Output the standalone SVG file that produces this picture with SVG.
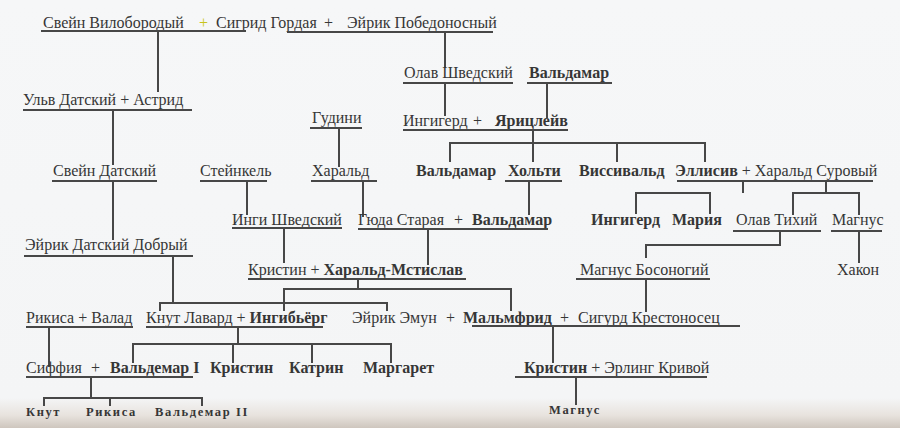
<svg xmlns="http://www.w3.org/2000/svg" width="900" height="428" viewBox="0 0 900 428">
<defs>
<linearGradient id="bg" x1="0" y1="0" x2="0" y2="1">
<stop offset="0" stop-color="#f6f7f8"/>
<stop offset="0.93" stop-color="#f4f5f6"/>
<stop offset="0.97" stop-color="#e8e3de"/>
<stop offset="1" stop-color="#cec6be"/>
</linearGradient>
<style>
text{font-family:"Liberation Serif","Times New Roman",serif;font-size:16px;fill:#363636}
.b{font-weight:bold}
.s{font-size:12.5px;font-weight:bold;letter-spacing:1.6px}
line{stroke:#474747;stroke-width:2}
.y{fill:#c8c41c}
</style>
</defs>
<rect width="900" height="428" fill="url(#bg)"/>

<g id="connectors">
<line x1="158" y1="31" x2="158" y2="92"/>
<line x1="113" y1="110" x2="113" y2="165"/>
<line x1="113" y1="181" x2="113" y2="240"/>
<line x1="173" y1="256" x2="173" y2="303"/>
<line x1="159" y1="303" x2="388" y2="303"/>
<line x1="160" y1="302" x2="160" y2="311"/>
<line x1="387" y1="302" x2="387" y2="311"/>
<line x1="445" y1="32" x2="445" y2="68"/>
<line x1="445" y1="83" x2="445" y2="116"/>
<line x1="547" y1="83" x2="547" y2="118"/>
<line x1="533" y1="130" x2="533" y2="143"/>
<line x1="449" y1="143" x2="706" y2="143"/>
<line x1="450" y1="142" x2="450" y2="162"/>
<line x1="533" y1="142" x2="533" y2="162"/>
<line x1="617" y1="142" x2="617" y2="162"/>
<line x1="705" y1="142" x2="705" y2="162"/>
<line x1="339" y1="128" x2="339" y2="167"/>
<line x1="247" y1="181" x2="247" y2="215"/>
<line x1="363" y1="181" x2="363" y2="217"/>
<line x1="529" y1="181" x2="529" y2="215"/>
<line x1="743" y1="181" x2="743" y2="193"/>
<line x1="635" y1="193" x2="711" y2="193"/>
<line x1="636" y1="192" x2="636" y2="214"/>
<line x1="710" y1="192" x2="710" y2="214"/>
<line x1="826" y1="181" x2="826" y2="193"/>
<line x1="792" y1="193" x2="860" y2="193"/>
<line x1="793" y1="192" x2="793" y2="215"/>
<line x1="859" y1="192" x2="859" y2="215"/>
<line x1="284" y1="228" x2="284" y2="263"/>
<line x1="428" y1="229" x2="428" y2="265"/>
<line x1="780" y1="231" x2="780" y2="245"/>
<line x1="645" y1="245" x2="781" y2="245"/>
<line x1="646" y1="244" x2="646" y2="258"/>
<line x1="859" y1="231" x2="859" y2="263"/>
<line x1="358" y1="279" x2="358" y2="289"/>
<line x1="283" y1="289" x2="512" y2="289"/>
<line x1="284" y1="288" x2="284" y2="311"/>
<line x1="511" y1="288" x2="511" y2="311"/>
<line x1="646" y1="279" x2="646" y2="312"/>
<line x1="553" y1="326" x2="553" y2="363"/>
<line x1="238" y1="327" x2="238" y2="344"/>
<line x1="132" y1="344" x2="392" y2="344"/>
<line x1="133" y1="343" x2="133" y2="363"/>
<line x1="233" y1="343" x2="233" y2="363"/>
<line x1="312" y1="343" x2="312" y2="363"/>
<line x1="391" y1="343" x2="391" y2="363"/>
<line x1="49" y1="327" x2="49" y2="367"/>
<line x1="91" y1="377" x2="91" y2="398"/>
<line x1="43" y1="398" x2="203" y2="398"/>
<line x1="44" y1="397" x2="44" y2="406"/>
<line x1="110" y1="397" x2="110" y2="406"/>
<line x1="202" y1="397" x2="202" y2="406"/>
<line x1="576" y1="377" x2="576" y2="405"/>
</g>

<g id="n-svein-sigrid-eyrik">
<text x="43" y="28">Свейн Вилобородый</text>
<text x="199" y="28" class="y">+</text>
<text x="216" y="28">Сигрид Гордая</text>
<text x="324" y="28">+</text>
<text x="347" y="28">Эйрик Победоносный</text>
<line x1="41" y1="31" x2="246" y2="31"/>
<line x1="287" y1="32" x2="493" y2="32"/>
</g>
<g id="n-ulv-astrid">
<text x="23" y="105">Ульв Датский + Астрид</text>
<line x1="23" y1="110" x2="192" y2="110"/>
</g>
<g id="n-svein-datsky">
<text x="53" y="176">Свейн Датский</text>
<line x1="52" y1="181" x2="157" y2="181"/>
</g>
<g id="n-eyrik-dobry">
<text x="25" y="250">Эйрик Датский Добрый</text>
<line x1="24" y1="256" x2="193" y2="256"/>
</g>
<g id="n-olav-shvedsky">
<text x="404" y="78">Олав Шведский</text>
<line x1="403" y1="83" x2="513" y2="83"/>
</g>
<g id="n-valdamar-top">
<text x="529" y="78" class="b">Вальдамар</text>
<line x1="527" y1="83" x2="612" y2="83"/>
</g>
<g id="n-gudini">
<text x="312" y="123">Гудини</text>
<line x1="310" y1="128" x2="362" y2="128"/>
</g>
<g id="n-ingigerd-yaritsleyv">
<text x="403" y="126">Ингигерд</text>
<text x="473" y="126">+</text>
<text x="495" y="126" class="b">Ярицлейв</text>
<line x1="403" y1="130" x2="568" y2="130"/>
</g>
<g id="n-steinkel">
<text x="200" y="176">Стейнкель</text>
<line x1="200" y1="181" x2="267" y2="181"/>
</g>
<g id="n-harald">
<text x="312" y="176">Харальд</text>
<line x1="311" y1="181" x2="377" y2="181"/>
</g>
<g id="n-valdamar-2">
<text x="416" y="176" class="b">Вальдамар</text>
</g>
<g id="n-kholti">
<text x="508" y="176" class="b">Хольти</text>
<line x1="505" y1="181" x2="562" y2="181"/>
</g>
<g id="n-vissivald">
<text x="579" y="176" class="b">Виссивальд</text>
</g>
<g id="n-ellisiv-harald">
<text x="675" y="176"><tspan class="b">Эллисив</tspan> + Харальд Суровый</text>
<line x1="677" y1="181" x2="873" y2="181"/>
</g>
<g id="n-ingi-shvedsky">
<text x="232" y="225">Инги Шведский</text>
<line x1="232" y1="228" x2="342" y2="228"/>
</g>
<g id="n-gyuda-valdamar">
<text x="358" y="225">Гюда Старая</text>
<text x="454" y="225">+</text>
<text x="472" y="225" class="b">Вальдамар</text>
<line x1="358" y1="229" x2="548" y2="229"/>
</g>
<g id="n-ingigerd-2">
<text x="591" y="225" class="b">Ингигерд</text>
</g>
<g id="n-maria">
<text x="672" y="225" class="b">Мария</text>
</g>
<g id="n-olav-tikhy">
<text x="736" y="225">Олав Тихий</text>
<line x1="733" y1="231" x2="821" y2="231"/>
</g>
<g id="n-magnus">
<text x="832" y="225">Магнус</text>
<line x1="831" y1="231" x2="882" y2="231"/>
</g>
<g id="n-kristin-harald-mstislav">
<text x="248" y="275">Кристин + <tspan class="b">Харальд-Мстислав</tspan></text>
<line x1="248" y1="279" x2="466" y2="279"/>
</g>
<g id="n-magnus-bosonogy">
<text x="580" y="275">Магнус Босоногий</text>
<line x1="576" y1="279" x2="710" y2="279"/>
</g>
<g id="n-khakon">
<text x="837" y="275">Хакон</text>
</g>
<g id="n-rikisa-valad">
<text x="26" y="323">Рикиса + Валад</text>
<line x1="26" y1="327" x2="133" y2="327"/>
</g>
<g id="n-knut-ingibjorg">
<text x="146" y="323">Кнут Лавард + <tspan class="b">Ингибьёрг</tspan></text>
<line x1="146" y1="327" x2="323" y2="327"/>
</g>
<g id="n-eyrik-malmfrid-sigurd">
<text x="352" y="323">Эйрик Эмун</text>
<text x="446" y="323">+</text>
<text x="463" y="323" class="b">Мальмфрид</text>
<text x="560" y="323">+</text>
<text x="578" y="323">Сигурд Крестоносец</text>
<line x1="472" y1="326" x2="740" y2="326"/>
</g>
<g id="n-siffiya-valdemar">
<text x="26" y="373">Сиффия</text>
<text x="91" y="373">+</text>
<text x="110" y="373" class="b">Вальдемар I</text>
<line x1="26" y1="377" x2="193" y2="377"/>
</g>
<g id="n-kristin-2">
<text x="210" y="373" class="b">Кристин</text>
</g>
<g id="n-katrin">
<text x="289" y="373" class="b">Катрин</text>
</g>
<g id="n-margaret">
<text x="363" y="373" class="b">Маргарет</text>
</g>
<g id="n-kristin-erling">
<text x="524" y="373"><tspan class="b">Кристин</tspan> + Эрлинг Кривой</text>
<line x1="515" y1="377" x2="707" y2="377"/>
</g>
<g id="n-knut">
<text x="26" y="416" class="s">Кнут</text>
</g>
<g id="n-rikisa">
<text x="86" y="416" class="s">Рикиса</text>
</g>
<g id="n-valdemar-ii">
<text x="155" y="416" class="s">Вальдемар II</text>
</g>
<g id="n-magnus-2">
<text x="549" y="414" class="s">Магнус</text>
</g>
</svg>
